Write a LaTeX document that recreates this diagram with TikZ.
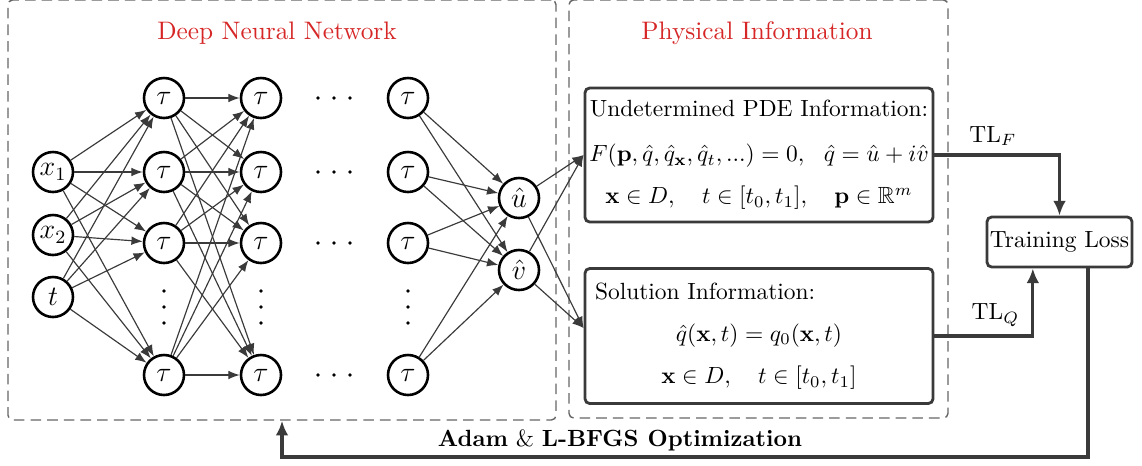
\documentclass[tikz,border=0pt]{standalone}
\usepackage{amsmath,amssymb}
\usepackage{tikz}
\usetikzlibrary{arrows,arrows.meta}
\definecolor{titlered}{RGB}{214,38,38}
\definecolor{wire}{RGB}{58,58,58}

\begin{document}
\begin{tikzpicture}[x=0.015cm, y=-0.015cm,
  neuron/.style={circle, draw, line width=1.1pt, minimum size=0.6cm, inner sep=0pt, font=\large},
  link/.style={-{Latex[length=0.17cm,width=0.13cm]}, wire, line width=0.5pt},
  info/.style={draw=wire, line width=1.2pt, rounded corners=2pt, inner sep=0pt, align=center, text=black},
  dashbox/.style={draw=gray!80!black, dash pattern=on 4.5pt off 2.6pt, line width=0.6pt, rounded corners=2pt, inner sep=0pt},
  flow/.style={-{Latex[length=0.22cm,width=0.19cm]}, wire, line width=1.3pt},
  heading/.style={text=titlered, font=\fontsize{10.8pt}{13pt}\selectfont}]
  \useasboundingbox (0,0) rectangle (1142,465);

  % dashed groups
  \node[dashbox, minimum width=8.22cm, minimum height=6.3cm] (dnn) at (282,210) {};
  \node[dashbox, minimum width=5.685cm, minimum height=6.27cm] (phys) at (758.5,209) {};
  \node[heading] (dnnT) at (277,33) {Deep Neural Network};
  \node[heading] (physT) at (757,33) {Physical Information};

  % network
  \node[neuron] (x1) at (53,172) {$x_1$};
  \node[neuron] (x2) at (53,235) {$x_2$};
  \node[neuron] (t) at (53,297) {$t$};
  \foreach \l/\x in {1/164,2/261,3/408}{
    \foreach \r/\y in {1/98,2/172,3/243,4/375}
      \node[neuron] (h\l\r) at (\x,\y) {$\tau$};
    \foreach \y in {291,307,323} \fill (\x,\y) circle (0.028cm);
  }
  \foreach \y in {98,172,243,375}
    \foreach \x in {318,334,350} \fill (\x,\y) circle (0.028cm);
  \node[neuron] (u) at (519,198) {$\hat{u}$};
  \node[neuron] (v) at (519,270) {$\hat{v}$};

  \foreach \i in {x1,x2,t}
    \foreach \r in {1,...,4} \draw[link] (\i) -- (h1\r);
  \foreach \a in {1,...,4}
    \foreach \b in {1,...,4} \draw[link] (h1\a) -- (h2\b);
  \foreach \a in {1,...,4}
    \foreach \o in {u,v} \draw[link] (h3\a) -- (\o);

  % physical information
  \node[info, minimum width=5.22cm, minimum height=2.01cm] (pde) at (759,155)
    {Undetermined PDE Information:\\[7pt]
     $F(\mathbf{p},\hat{q},\hat{q}_{\mathbf{x}},\hat{q}_t,...)=0,\ \ \hat{q}=\hat{u}+i\hat{v}$\\[6pt]
     $\mathbf{x}\in D,\quad t\in[t_0,t_1],\quad \mathbf{p}\in\mathbb{R}^m$};
  \node[info, minimum width=5.22cm, minimum height=2.025cm] (sol) at (759,336)
    {\makebox[4.92cm][l]{Solution Information:}\\[6pt]
     $\hat{q}(\mathbf{x},t)=q_0(\mathbf{x},t)$\\[6pt]
     $\mathbf{x}\in D,\quad t\in[t_0,t_1]$};

  \foreach \o in {u,v}{
    \draw[link] (\o) -- (pde.west);
    \draw[link] (\o) -- ([yshift=0.12cm]sol.west);
  }

  % loss and feedback
  \node[info, minimum width=2.175cm, minimum height=0.75cm] (loss) at (1059.5,242) {Training Loss};
  \draw[flow] (pde.east) -| node[pos=0.234, above, text=black] {TL$_F$} (loss.north);
  \draw[flow] (sol.east) -| node[pos=0.31, above, text=black] {TL$_Q$} ([xshift=-0.4cm]loss.south);
  \coordinate (back) at (1088,457);
  \draw[flow] (loss.south -| back) -- (back) -| (dnn.south);
  \node (opt) at (620,440) {\textbf{Adam} \& \textbf{L-BFGS Optimization}};
\end{tikzpicture}
\end{document}
